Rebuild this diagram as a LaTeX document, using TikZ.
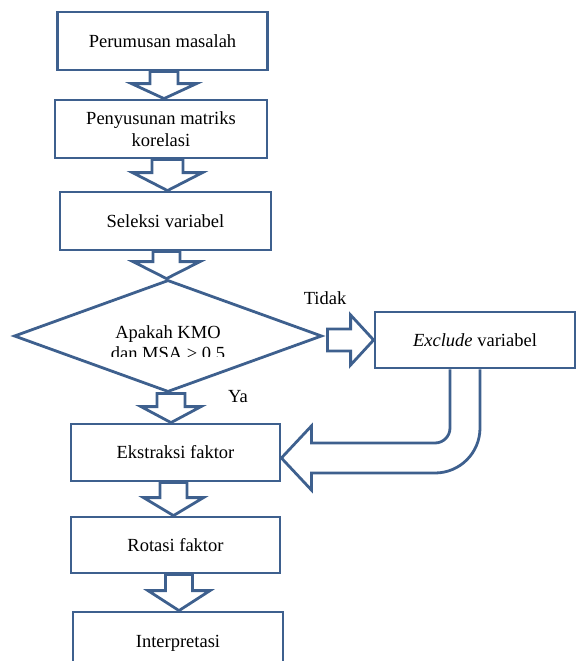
\documentclass[tikz,border=0pt]{standalone}
\usepackage{fontspec}
\setmainfont{Liberation Serif}
\usetikzlibrary{shapes.geometric,calc}
\definecolor{ln}{RGB}{62,96,142}
\newcommand\blkdown[6]{%
  \draw[blk] let \p1=(#1.south), \p2=(#2.north) in
    (#3pt-#4pt,\y1) -- (#3pt+#4pt,\y1) -- (#3pt+#4pt,\y2+#6pt) -- (#3pt+#5pt,\y2+#6pt)
    -- (#3pt,\y2) -- (#3pt-#5pt,\y2+#6pt) -- (#3pt-#4pt,\y2+#6pt) -- cycle;}
\begin{document}
\begin{tikzpicture}[x=1pt,y=1pt,
  every node/.style={font=\fontsize{18.5}{22}\selectfont, text=black},
  box/.style={draw=ln, line width=2.8pt, minimum width=210pt, minimum height=57pt, inner sep=0pt, align=center},
  blk/.style={draw=ln, line width=2.8pt, line join=miter}]
\clip (0,0) rectangle (577,-661);
% boxes
\node[box, minimum height=58pt] (b1) at (162.5,-41) {Perumusan masalah};
\node[box, minimum width=212pt, minimum height=58pt] (b2) at (161,-129) {Penyusunan matriks\\korelasi};
\node[box, minimum width=211pt, minimum height=58pt] (b3) at (165.5,-221) {Seleksi variabel};
\node[diamond, draw=ln, line width=2.8pt, minimum width=308pt, minimum height=112pt, inner sep=0pt] (d) at (168,-336) {};
\begin{scope}
  \clip (0,-200) rectangle (577,-356);
  \node[align=center, font=\fontsize{18.5}{21}\selectfont] (dt) at (168,-342.5) {Apakah KMO\\dan MSA > 0.5};
\end{scope}
\node[box, minimum width=200pt, minimum height=56pt] (ex) at (475,-340) {\textit{Exclude} variabel};
\node[box, minimum width=209pt, minimum height=57pt] (ek) at (175.5,-452.5) {Ekstraksi faktor};
\node[box, minimum width=209pt, minimum height=56pt] (ro) at (175.5,-545) {Rotasi faktor};
\node[box, minimum width=210pt, minimum height=62pt] (in) at (178,-643) {Interpretasi};
% labels
\node (tidak) at (325,-298) {Tidak};
\node (ya) at (238,-397) {Ya};
% block arrows down
\blkdown{b1}{b2}{164}{14}{32.5}{15}
\blkdown{b2}{b3}{167.5}{15.5}{35}{18}
\blkdown{b3}{d}{166.5}{13.5}{33.5}{17}
\blkdown{d}{ek}{171}{14}{30}{16}
\blkdown{ek}{ro}{173.5}{13.5}{30}{18}
\blkdown{ro}{in}{179}{13.5}{31}{20}
% right arrow
\draw[blk] let \p1=(d.east), \p2=(ex.west) in
  (\x1+4pt,\y2+11pt) -- (\x2-23pt,\y2+11pt) -- (\x2-23pt,\y2+25pt) -- (\x2,\y2)
  -- (\x2-23pt,\y2-25pt) -- (\x2-23pt,\y2-11pt) -- (\x1+4pt,\y2-11pt) -- cycle;
% U-turn arrow
\draw[blk] let \p1=(ex.south), \p2=(ek.east) in
  (\x1-25pt,\y1) -- (\x1-25pt,-428pt) arc[start angle=0,end angle=-90,radius=15pt]
  -- (\x2+30pt,-443pt) -- (\x2+30pt,-426pt) -- (\x2,\y2-5.5pt) -- (\x2+30pt,-490pt)
  -- (\x2+30pt,-473pt) -- (\x1-40pt,-473pt) arc[start angle=-90,end angle=0,radius=45pt]
  -- (\x1+5pt,\y1);
\end{tikzpicture}
\end{document}
